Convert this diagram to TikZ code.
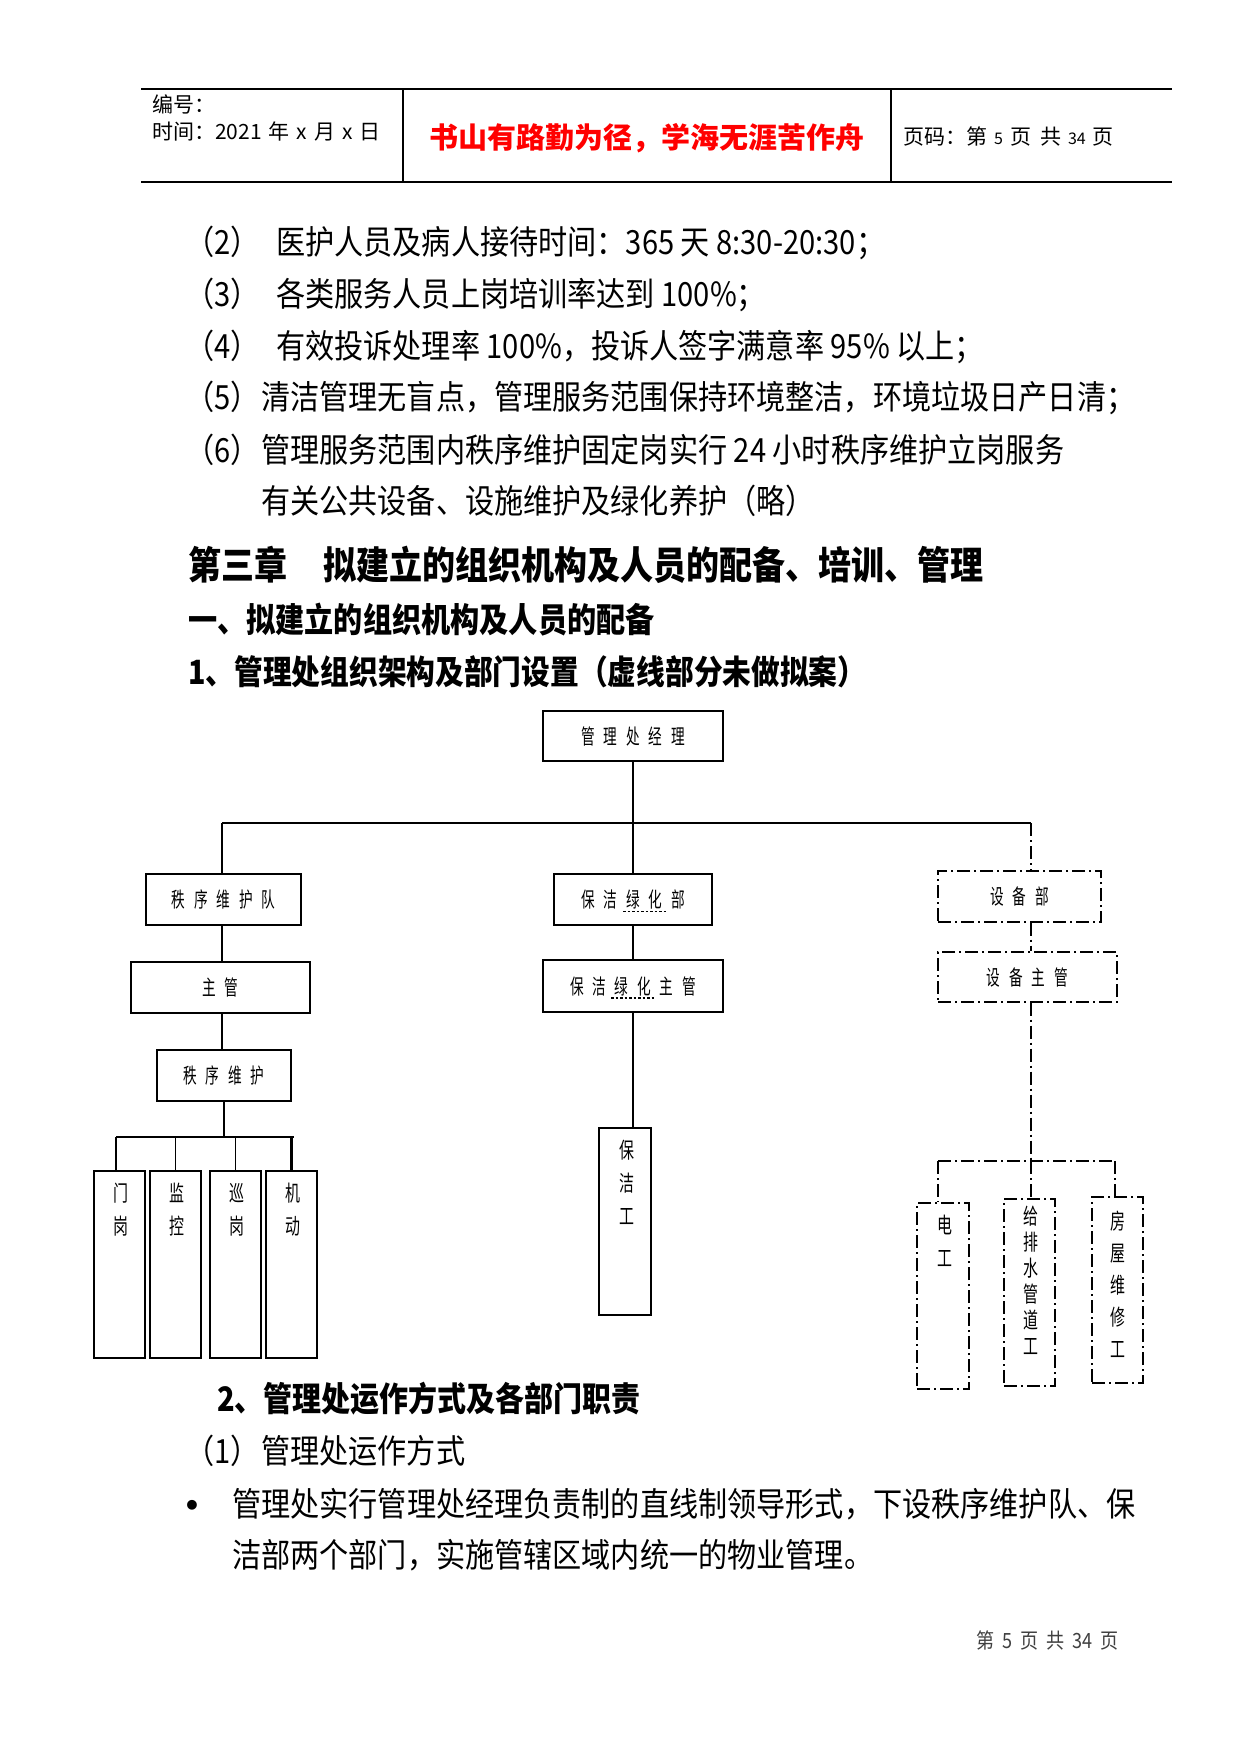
\documentclass[tikz,border=0pt]{standalone}
\usepackage{fontspec}
\setmainfont{Liberation Sans}
\newfontfamily\hdfont{Noto Sans CJK SC}
\newfontfamily\bodyfont[FakeStretch=0.875]{Noto Sans CJK SC}
\newfontfamily\headfont[FakeStretch=0.86]{Noto Sans CJK SC}
\newfontfamily\chartfont[FakeStretch=0.65,LetterSpace=42]{Noto Sans CJK SC}
\newfontfamily\tallfont[FakeStretch=0.68]{Noto Sans CJK SC}
\newcommand\gp{\hspace{7pt}}
\usetikzlibrary{calc}
\tikzset{
  box/.style={draw, line width=1.3pt, inner sep=0pt, font=\chartfont\fontsize{21}{21}\selectfont},
  tbox/.style={box, line width=2.4pt},
  ddash/.style={dash pattern=on 13pt off 4pt on 2pt off 4pt},
  dbox/.style={box, line width=1.4pt, ddash},
  conn/.style={line width=1.2pt},
  busline/.style={line width=2pt},
  tconn/.style={line width=2.4pt},
  dconn/.style={line width=2pt, ddash},
  dthin/.style={line width=1.4pt, ddash},
  talltext/.style={inner sep=0pt, align=center, anchor=north, font=\tallfont\fontsize{22}{33}\selectfont},
  body/.style={inner sep=0pt, anchor=base west, font=\bodyfont\fontsize{33.3}{33.3}\selectfont},
  head/.style={inner sep=0pt, anchor=base west},
  hdtext/.style={inner sep=0pt, anchor=base west, font=\hdfont\fontsize{21}{21}\selectfont},
  spell/.style={line width=1.8pt, dash pattern=on 2.5pt off 2pt},
}
\begin{document}
\begin{tikzpicture}[x=1pt,y=-1pt]
\useasboundingbox[fill=white] (0,0) rectangle (1241,1754);

% ---------- header ----------
\coordinate (hTL) at (141,89);
\coordinate (hTR) at (1172,89);
\coordinate (hBL) at (141,182);
\coordinate (hBR) at (1172,182);
\coordinate (v1t) at (403,89);
\coordinate (v1b) at (403,182);
\coordinate (v2t) at (891,89);
\coordinate (v2b) at (891,182);
\draw[line width=1.3pt] (hTL) -- (hTR);
\draw[line width=1.3pt] (hBL) -- (hBR);
\draw[line width=1.3pt] (v1t) -- (v1b);
\draw[line width=1.3pt] (v2t) -- (v2b);
\node[hdtext] (bh) at (152,112) {编号：};
\node[hdtext] (sj) at (152,139) {时间：2021\gp 年\gp x\gp 月\gp x\gp 日};
\node[inner sep=0pt, anchor=base, text=red, font=\hdfont\bfseries\fontsize{29}{29}\selectfont] (motto) at (647,148) {书山有路勤为径，学海无涯苦作舟};
\node[hdtext] (ym) at (903,144) {页码：第\gp{\fontsize{16}{16}\selectfont 5}\gp 页\hspace{9pt}共\gp{\fontsize{16}{16}\selectfont 34}\gp 页};

% ---------- body text ----------
\node[body] (t2) at (185,254) {\makebox[91pt][l]{（2）}医护人员及病人接待时间：365 天 8:30-20:30；};
\node[body] (t3) at (185,306) {\makebox[91pt][l]{（3）}各类服务人员上岗培训率达到 100\%；};
\node[body] (t4) at (185,358) {\makebox[91pt][l]{（4）}有效投诉处理率 100\%，投诉人签字满意率 95\% 以上；};
\node[body] (t5) at (185,409) {\makebox[76pt][l]{（5）}清洁管理无盲点，管理服务范围保持环境整洁，环境垃圾日产日清；};
\node[body] (t6) at (185,462) {\makebox[76pt][l]{（6）}管理服务范围内秩序维护固定岗实行 24 小时秩序维护立岗服务};
\node[body] (t7) at (261,513) {有关公共设备、设施维护及绿化养护（略）};

\node[head, font=\headfont\bfseries\fontsize{38.4}{38.4}\selectfont] (ch3) at (188,579) {第三章\hspace{36pt}拟建立的组织机构及人员的配备、培训、管理};
\node[head, font=\headfont\bfseries\fontsize{33.9}{33.9}\selectfont] (s1) at (188,632) {一、拟建立的组织机构及人员的配备};
\node[head, font=\headfont\bfseries\fontsize{33.4}{33.4}\selectfont] (s11) at (188,684) {1、管理处组织架构及部门设置（虚线部分未做拟案）};

% ---------- org chart ----------
\node[box, line width=1.8pt, minimum width=180pt, minimum height=50pt] (mgr) at (633,736) {管理处经理};

\coordinate (hL) at (222,823);
\coordinate (hR) at (1031,823);
\draw[busline] (hL) -- (hR);
\draw[conn] (mgr.south) -- (mgr.south |- hL);

% left branch
\node[box, minimum width=155pt, minimum height=51pt] (sq) at (223.5,899.5) {秩序维护队};
\node[box, minimum width=179pt, minimum height=51pt] (zg) at (220.5,987.5) {主管};
\node[box, line width=1.6pt, minimum width=134pt, minimum height=51pt] (wh) at (224,1075.5) {秩序维护};
\draw[conn] (hL) -- (hL |- sq.north);
\draw[conn] (sq.south -| hL) -- (zg.north -| hL);
\draw[conn] (zg.south -| hL) -- (wh.north -| hL);

\coordinate (b2L) at (116,1137);
\coordinate (b2R) at (294,1137);
\draw[tconn] (wh.south) -- (wh.south |- b2L);
\draw[conn] (b2L) -- (b2R);

\node[tbox, minimum width=51pt, minimum height=187pt] (mg) at (119.5,1264.5) {};
\node[tbox, minimum width=51pt, minimum height=187pt] (jk) at (175.5,1264.5) {};
\node[tbox, minimum width=51pt, minimum height=187pt] (xg) at (235.5,1264.5) {};
\node[tbox, minimum width=51pt, minimum height=187pt] (jd) at (291.5,1264.5) {};
\node[talltext] (mgt) at ($(mg.north)+(1,13)$) {门\\岗};
\node[talltext] (jkt) at ($(jk.north)+(1,13)$) {监\\控};
\node[talltext] (xgt) at ($(xg.north)+(1,13)$) {巡\\岗};
\node[talltext] (jdt) at ($(jd.north)+(1,13)$) {机\\动};
\draw[tconn] (b2L) -- (b2L |- mg.north);
\draw[conn] (jk.north |- b2L) -- (jk.north);
\draw[conn] (xg.north |- b2L) -- (xg.north);
\draw[tconn] (jd.north |- b2L) -- (jd.north);

% middle branch
\node[box, minimum width=158pt, minimum height=51pt] (bj) at (633,899.5) {保洁绿化部};
\node[box, line width=2.2pt, minimum width=180pt, minimum height=52pt] (bz) at (633,986) {保洁绿化主管};
\node[box, line width=1.8pt, minimum width=52pt, minimum height=187pt] (bg) at (625,1221.5) {};
\node[talltext] (bgt) at ($(bg.north)+(2,13)$) {保\\洁\\工};
\draw[conn] (bj.north |- hL) -- (bj.north);
\draw[conn] (bj.south) -- (bz.north);
\draw[tconn] (bz.south) -- (bz.south |- bg.north);
\draw[spell] ($(bj.center)+(-10,12)$) -- ($(bj.center)+(33,12)$);
\draw[spell] ($(bz.center)+(-22,12)$) -- ($(bz.center)+(22,12)$);

% right branch (dash-dot, not planned)
\node[dbox, minimum width=163pt, minimum height=51pt] (sb) at (1019.5,896.5) {设备部};
\node[dbox, minimum width=179pt, minimum height=50pt] (sz) at (1027.5,977) {设备主管};
\draw[dconn] (hR) -- (hR |- sb.north);
\draw[dconn] (sb.south -| hR) -- (sz.north -| hR);

\coordinate (b3L) at (938,1161);
\coordinate (b3R) at (1115,1161);
\coordinate (b3M) at (1031,1161);
\draw[dconn] (sz.south -| hR) -- (b3M);
\draw[dconn] (b3L) -- (b3R);

\node[dbox, line width=2pt, minimum width=52pt, minimum height=186pt] (dg) at (943,1296) {};
\node[dbox, line width=2pt, minimum width=51pt, minimum height=187pt] (gp) at (1029.5,1292.5) {};
\node[dbox, line width=2pt, minimum width=51pt, minimum height=186pt] (fw) at (1117.5,1290) {};
\node[talltext] (dgt) at ($(dg.north)+(2,13)$) {电\\工};
\node[talltext, font=\tallfont\fontsize{22}{26}\selectfont] (gpt) at ($(gp.north)+(1.5,8)$) {给\\排\\水\\管\\道\\工};
\node[talltext, font=\tallfont\fontsize{22}{32}\selectfont] (fwt) at ($(fw.north)+(0.5,15)$) {房\\屋\\维\\修\\工};
\draw[dthin] (b3L) -- (b3L |- dg.north);
\draw[dconn] (b3M) -- (b3M |- gp.north);
\draw[dthin] (b3R) -- (b3R |- fw.north);

% ---------- lower text ----------
\node[head, font=\headfont\bfseries\fontsize{33.7}{33.7}\selectfont] (s2) at (217,1411) {2、管理处运作方式及各部门职责};
\node[body] (p1) at (185,1463) {\makebox[76pt][l]{（1）}管理处运作方式};
\node[inner sep=0pt, font=\bfseries\fontsize{34}{34}\selectfont] (bul) at (192,1508) {•};
\node[body] (p2) at (232,1516) {管理处实行管理处经理负责制的直线制领导形式，下设秩序维护队、保};
\node[body] (p3) at (232,1567) {洁部两个部门，实施管辖区域内统一的物业管理。};

\node[inner sep=0pt, anchor=base west, text=black!75, font=\headfont\fontsize{21}{21}\selectfont] (foot) at (976,1648) {第\hspace{8pt}5\hspace{8pt}页\hspace{8pt}共\hspace{8pt}34\hspace{8pt}页};
\end{tikzpicture}
\end{document}
